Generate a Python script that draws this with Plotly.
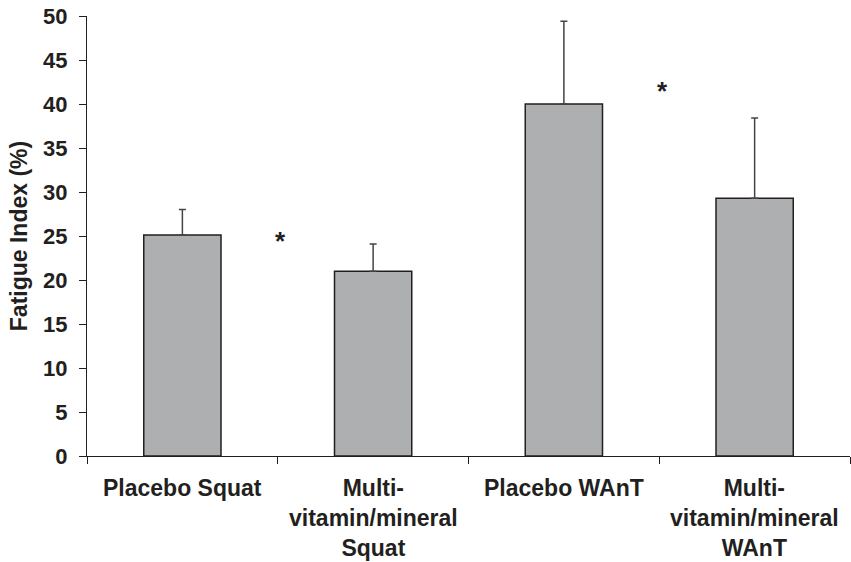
import plotly.graph_objects as go

categories = ["Placebo Squat", "Multi-<br>vitamin/mineral<br>Squat", "Placebo WAnT", "Multi-<br>vitamin/mineral<br>WAnT"]
means = [25.1, 21.0, 40.0, 29.3]
errors_up = [2.9, 3.1, 9.4, 9.1]
star_x = [0.515, 2.515]
star_y = [24.45, 41.45]
y_ticks = [0, 5, 10, 15, 20, 25, 30, 35, 40, 45, 50]

FONT = "Liberation Sans, Arial, sans-serif"
INK = "#231f20"

fig = go.Figure()
fig.add_trace(go.Bar(
    x=list(range(len(categories))),
    y=means,
    width=0.405,
    marker=dict(color="#aeafb1", line=dict(color=INK, width=1.5)),
    error_y=dict(type="data", symmetric=False, array=errors_up,
                 arrayminus=[0] * len(means), color="#444444",
                 thickness=1.5, width=3.5),
    showlegend=False,
))

for sx, sy in zip(star_x, star_y):
    fig.add_annotation(x=sx, y=sy, text="<b>*</b>", showarrow=False,
                       font=dict(family=FONT, size=26, color=INK),
                       xanchor="center", yanchor="middle")

fig.update_layout(
    width=851, height=562,
    margin=dict(l=87, r=1, t=16, b=106),
    plot_bgcolor="white", paper_bgcolor="white",
    font=dict(family=FONT, size=22, color=INK),
    bargap=0.6,
)
fig.update_xaxes(
    range=[-0.5, 3.5],
    tickvals=[-0.5, 0.5, 1.5, 2.5, 3.5],
    ticktext=["", "", "", "", ""],
    ticks="outside", ticklen=7, tickwidth=1.3, tickcolor=INK,
    showline=True, linecolor=INK, linewidth=1.3,
    showgrid=False, zeroline=False,
)
for i, c in enumerate(categories):
    fig.add_annotation(x=i, y=0, yref="y", text="<b>%s</b>" % c, showarrow=False,
                       xanchor="center", yanchor="top", yshift=-17,
                       font=dict(family=FONT, size=23, color=INK))
fig.update_yaxes(
    range=[0, 50],
    tickvals=y_ticks,
    ticktext=["<b>%d</b>" % v for v in y_ticks],
    tickfont=dict(family=FONT, size=22, color=INK),
    ticks="outside", ticklen=7, tickwidth=1.3, tickcolor=INK,
    ticklabelstandoff=7,
    ticklabeloverflow="allow",
    showline=True, linecolor=INK, linewidth=1.3,
    showgrid=False, zeroline=False,
    automargin=False,
    title=dict(text="<b>Fatigue Index (%)</b>", font=dict(family=FONT, size=23, color=INK), standoff=8),
)

fig.write_html(
    "out.html",
    config={"displayModeBar": False},
    post_script="document.body.style.margin='0';document.body.style.overflow='hidden';",
)
